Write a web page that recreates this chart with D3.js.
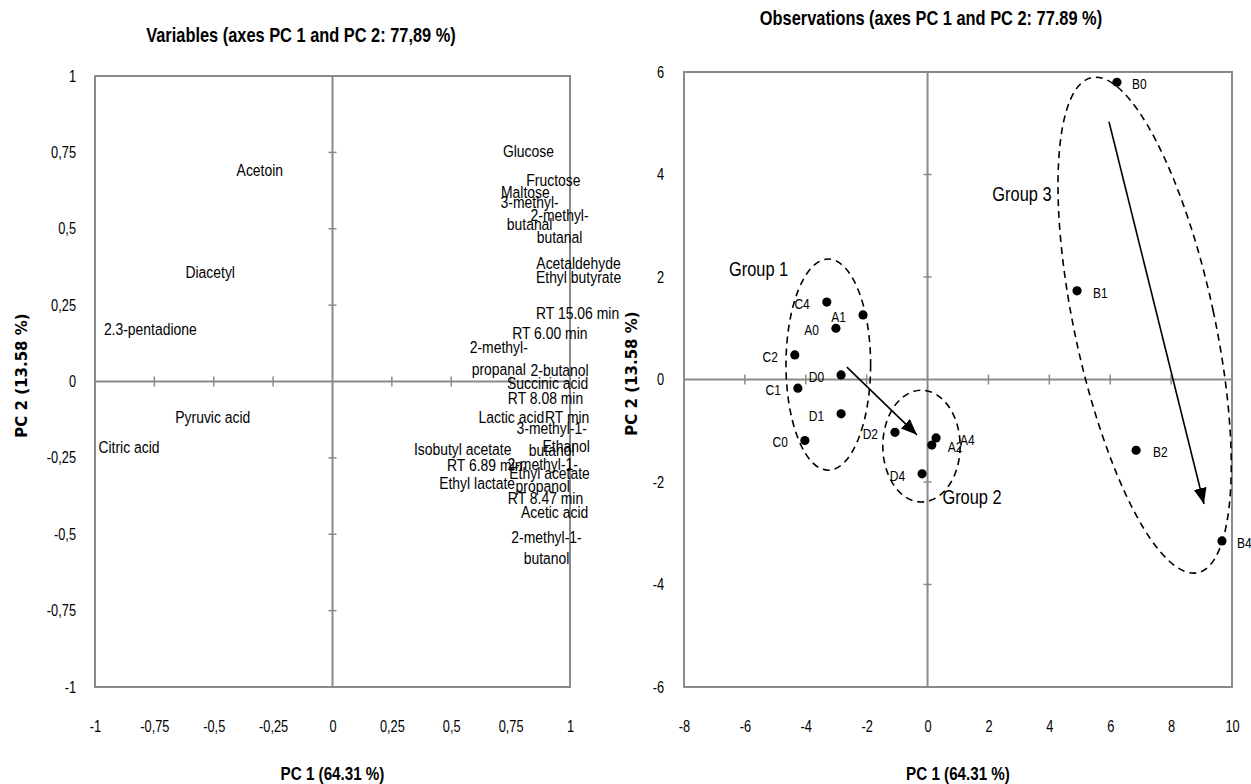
<!DOCTYPE html>
<html><head><meta charset="utf-8">
<script src="https://cdn.jsdelivr.net/npm/d3@7"></script>
<style>
body{margin:0;background:#fff;}
svg text{font-family:"Liberation Sans Narrow","Liberation Sans",Arial,sans-serif;fill:#000;}
</style></head><body>
<svg id="chart" width="1251" height="784"></svg>
<script>
// ---------- Data: variables (correlation circle labels) ----------
const varNames = ["Acetoin","Diacetyl","2.3-pentadione","Pyruvic acid","Citric acid","Glucose","Fructose","Maltose","3-methyl-\nbutanal","2-methyl-\nbutanal","Acetaldehyde","Ethyl butyrate","RT 15.06 min","RT 6.00 min","2-methyl-\npropanal","2-butanol","Succinic acid","RT 8.08 min","Lactic acid","RT min","3-methyl-1-\nbutanol","Ethanol","Isobutyl acetate","RT 6.89 min","2-methyl-1-\npropanol","Ethyl acetate","Ethyl lactate","RT 8.47 min","Acetic acid","2-methyl-1-\nbutanol"];
const varPC1 = [-0.306,-0.515,-0.767,-0.504,-0.857,0.825,0.93,0.812,0.83,0.956,1.036,1.036,1.032,0.915,0.70,0.956,0.906,0.897,0.753,0.988,0.923,0.984,0.548,0.641,0.885,0.914,0.609,0.897,0.935,0.901];
const varPC2 = [0.692,0.359,0.171,-0.115,-0.215,0.755,0.66,0.621,0.553,0.509,0.387,0.343,0.224,0.16,0.077,0.038,-0.005,-0.054,-0.116,-0.116,-0.187,-0.211,-0.219,-0.273,-0.306,-0.30,-0.331,-0.381,-0.427,-0.543];

// ---------- Data: observations ----------
const obsNames = ["A0","A1","A2","A4","B0","B1","B2","B4","C0","C1","C2","C4","D0","D1","D2","D4"];
const obsPC1 = [-3.01,-2.12,0.14,0.28,6.22,4.91,6.85,9.67,-4.03,-4.26,-4.36,-3.31,-2.84,-2.84,-1.07,-0.18];
const obsPC2 = [1.00,1.26,-1.28,-1.14,5.80,1.73,-1.38,-3.15,-1.19,-0.17,0.48,1.51,0.09,-0.67,-1.03,-1.84];

// ---------- Data: groups (ellipses) and arrows ----------
const groupNames = ["Group 1","Group 2","Group 3"];
const groupLabelPC1 = [-5.55,1.46,3.1];
const groupLabelPC2 = [2.16,-2.29,3.63];
const ellipseCX = [-3.26,-0.2,7.13];
const ellipseCY = [0.29,-1.30,1.06];
const ellipseRX = [1.39,1.27,2.3];
const ellipseRY = [2.06,1.09,4.94];
const ellipseAngle = [0,0,-12.1];
const arrowFromPC1 = [-2.65,5.96];
const arrowFromPC2 = [0.24,5.03];
const arrowToPC1 = [-0.35,9.08];
const arrowToPC2 = [-1.08,-2.43];

// ---------- Ticks & titles ----------
const leftTicks = [-1,-0.75,-0.5,-0.25,0,0.25,0.5,0.75,1];
const leftTickLabels = ["-1","-0,75","-0,5","-0,25","0","0,25","0,5","0,75","1"];
const rightXTicks = [-8,-6,-4,-2,0,2,4,6,8,10];
const rightXTickLabels = ["-8","-6","-4","-2","0","2","4","6","8","10"];
const rightYTicks = [-6,-4,-2,0,2,4,6];
const rightYTickLabels = ["-6","-4","-2","0","2","4","6"];
const leftTitle = "Variables (axes PC 1 and PC 2: 77,89 %)";
const rightTitle = "Observations (axes PC 1 and PC 2: 77.89 %)";
const xAxisTitle = "PC 1 (64.31 %)";
const yAxisTitle = "PC 2 (13.58 %)";

// ---------- Drawing ----------
const svg = d3.select("#chart");
const GRAY = "#8a8a8a";
const SX = 0.82; // horizontal condensing (narrow face)

function ctext(parent, x, y, str, size, opts = {}) {
  const t = parent.append("text")
    .attr("transform", `translate(${x},${y}) scale(${opts.sx || SX},1)`)
    .attr("x", 0).attr("y", 0)
    .attr("text-anchor", opts.anchor || "middle")
    .attr("font-size", size);
  if (opts.bold) t.attr("font-weight", "bold");
  const lines = str.split("\n");
  const lh = opts.lh || size * 1.25;
  lines.forEach((ln, j) => {
    t.append("tspan").attr("x", 0)
      .attr("dy", j === 0 ? (0.36 * size - (lines.length - 1) * lh / 2) : lh)
      .text(ln);
  });
  return t;
}

svg.append("defs").append("marker")
  .attr("id","arrowhead").attr("markerUnits","userSpaceOnUse")
  .attr("markerWidth",18).attr("markerHeight",14)
  .attr("refX",16).attr("refY",6.5).attr("orient","auto")
  .append("path").attr("d","M0,0 L16,6.5 L0,13 Z").attr("fill","#000");

function panel(cfg){
  const x = d3.scaleLinear().domain(cfg.xDomain).range(cfg.xRange);
  const y = d3.scaleLinear().domain(cfg.yDomain).range(cfg.yRange);
  const g = svg.append("g");
  g.append("rect").attr("x",cfg.xRange[0]).attr("y",cfg.yRange[1])
    .attr("width",cfg.xRange[1]-cfg.xRange[0]).attr("height",cfg.yRange[0]-cfg.yRange[1])
    .attr("fill","none").attr("stroke",GRAY).attr("stroke-width",2);
  g.append("line").attr("x1",x(0)).attr("x2",x(0)).attr("y1",cfg.yRange[1]).attr("y2",cfg.yRange[0])
    .attr("stroke",GRAY).attr("stroke-width",2);
  g.append("line").attr("x1",cfg.xRange[0]).attr("x2",cfg.xRange[1]).attr("y1",y(0)).attr("y2",y(0))
    .attr("stroke",GRAY).attr("stroke-width",2);
  const xt = cfg.xTicks.filter(v=>v!==0 && v!==cfg.xDomain[0] && v!==cfg.xDomain[1]);
  g.selectAll(null).data(xt).enter().append("line")
    .attr("x1",d=>x(d)).attr("x2",d=>x(d)).attr("y1",y(0)-5).attr("y2",y(0)+5)
    .attr("stroke",GRAY).attr("stroke-width",1.5);
  const yt = cfg.yTicks.filter(v=>v!==0 && v!==cfg.yDomain[0] && v!==cfg.yDomain[1]);
  g.selectAll(null).data(yt).enter().append("line")
    .attr("x1",x(0)-4).attr("x2",x(0)+4).attr("y1",d=>y(d)).attr("y2",d=>y(d))
    .attr("stroke",GRAY).attr("stroke-width",1.5);
  const ax = g.append("g").attr("transform",`translate(0,${cfg.xLabelY})`)
    .call(d3.axisBottom(x).tickValues(cfg.xTicks).tickFormat((d,i)=>cfg.xTickLabels[i]).tickSize(0).tickPadding(0));
  ax.select(".domain").remove();
  ax.selectAll("text").attr("font-size",16).attr("font-family",null).attr("transform","scale(0.8,1)");
  const ay = g.append("g").attr("transform",`translate(${cfg.yLabelX},0)`)
    .call(d3.axisLeft(y).tickValues(cfg.yTicks).tickFormat((d,i)=>cfg.yTickLabels[i]).tickSize(0).tickPadding(0));
  ay.select(".domain").remove();
  ay.selectAll("text").attr("font-size",16).attr("font-family",null).attr("transform","scale(0.8,1)");
  ctext(g, cfg.titleX, cfg.titleY, cfg.title, 20, {bold:true, sx:0.82});
  ctext(g, (cfg.xRange[0]+cfg.xRange[1])/2, 773, xAxisTitle, 19, {bold:true, sx:0.8});
  g.append("text").attr("transform",`translate(${cfg.yTitleX},${(cfg.yRange[0]+cfg.yRange[1])/2 - 6}) rotate(-90)`)
    .attr("text-anchor","middle").attr("dy","0.36em")
    .style("font-family","'DejaVu Sans',sans-serif").attr("font-weight","bold").attr("font-size",15)
    .text(yAxisTitle);
  return {x,y,g};
}

// Left panel: variables
const L = panel({xDomain:[-1,1], xRange:[95,570], yDomain:[-1,1], yRange:[687,76],
  xTicks:leftTicks, xTickLabels:leftTickLabels, yTicks:leftTicks, yTickLabels:leftTickLabels,
  xLabelY:721, yLabelX:76, title:leftTitle, titleX:301, titleY:35, yTitleX:22});

varNames.forEach((name,i)=>{
  ctext(L.g, L.x(varPC1[i]), L.y(varPC2[i]), name, 17, {lh:22});
});

// Right panel: observations
const R = panel({xDomain:[-8,10], xRange:[684,1232], yDomain:[-6,6], yRange:[687,72],
  xTicks:rightXTicks, xTickLabels:rightXTickLabels, yTicks:rightYTicks, yTickLabels:rightYTickLabels,
  xLabelY:721, yLabelX:664, title:rightTitle, titleX:931, titleY:18, yTitleX:632});

groupNames.forEach((gname,i)=>{
  const cx = R.x(ellipseCX[i]), cy = R.y(ellipseCY[i]);
  R.g.append("ellipse").attr("cx",cx).attr("cy",cy)
    .attr("rx",R.x(ellipseCX[i]+ellipseRX[i])-cx).attr("ry",cy-R.y(ellipseCY[i]+ellipseRY[i]))
    .attr("transform",`rotate(${ellipseAngle[i]},${cx},${cy})`)
    .attr("fill","none").attr("stroke","#000").attr("stroke-width",1.6).attr("stroke-dasharray","7,5");
  ctext(R.g, R.x(groupLabelPC1[i]), R.y(groupLabelPC2[i]), gname, 20, {sx:0.82});
});

arrowFromPC1.forEach((v,i)=>{
  R.g.append("line").attr("x1",R.x(arrowFromPC1[i])).attr("y1",R.y(arrowFromPC2[i]))
    .attr("x2",R.x(arrowToPC1[i])).attr("y2",R.y(arrowToPC2[i]))
    .attr("stroke","#000").attr("stroke-width",1.6).attr("marker-end","url(#arrowhead)");
});

const rightSide = {"A2":16,"A4":24,"B0":15,"B1":16,"B2":17,"B4":15};
obsNames.forEach((name,i)=>{
  const px = R.x(obsPC1[i]), py = R.y(obsPC2[i]);
  R.g.append("circle").attr("cx",px).attr("cy",py).attr("r",4.6).attr("fill","#000");
  const right = name in rightSide;
  ctext(R.g, right ? px + rightSide[name] : px - 17, py + 1.5, name, 15,
        {anchor: right ? "start" : "end", sx:0.8});
});
</script>
</body></html>
